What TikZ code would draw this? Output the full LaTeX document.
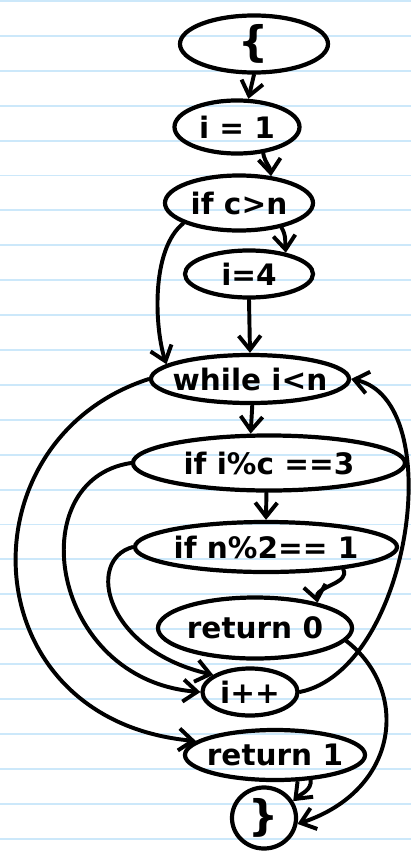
\documentclass[tikz,border=0pt]{standalone}
\usepackage{fontspec}
\setmainfont{DejaVu Sans}
\usetikzlibrary{shapes.geometric, arrows.meta}

\definecolor{ruled}{RGB}{204,232,250}

\begin{document}
\begin{tikzpicture}[
    x=0.025cm, y=0.025cm,
    block/.style={ellipse, draw=black, line width=3pt, inner sep=0pt, text centered, font=\fontsize{21}{24}\selectfont\bfseries,
        execute at begin node={\hbox to 0pt\bgroup\hss}, execute at end node={\hss\egroup}},
    brace/.style={font=\fontsize{30}{32}\selectfont\bfseries},
    flow/.style={-{Straight Barb[length=3.5mm, width=5.5mm]}, line width=2.8pt, line cap=round, line join=round}
]

    % paper
    \useasboundingbox (0,0) rectangle (411,-854);
    \fill[white] (0,0) rectangle (411,-854);
    \foreach \k in {0,...,24}
        \draw[ruled, line width=1.4pt] (0,{-1-34.9*\k}) -- (411,{-1-34.9*\k});

    % nodes
    \node[block, brace, minimum width=3.7cm, minimum height=1.425cm] (start) at (254,-44) {\{};
    \node[block, minimum width=3.125cm, minimum height=1.325cm] (one) at (237,-127) {i = 1};
    \node[block, minimum width=3.7cm, minimum height=1.375cm] (ifcn) at (239,-203) {if c>n};
    \node[block, minimum width=3.2cm, minimum height=1.175cm] (four) at (249,-274) {i=4};
    \node[block, minimum width=4.95cm, minimum height=1.2cm] (loop) at (250,-379) {while i<n};
    \node[block, minimum width=6.8cm, minimum height=1.375cm] (ifmodc) at (269,-463) {if i\%c ==3};
    \node[block, minimum width=6.55cm, minimum height=1.25cm] (ifmodtwo) at (266,-547) {if n\%2== 1};
    \node[block, minimum width=4.85cm, minimum height=1.525cm] (retzero) at (255,-628) {return 0};
    \node[block, minimum width=2.375cm, minimum height=1.175cm] (inc) at (250,-692) {i++};
    \node[block, minimum width=4.5cm, minimum height=1.25cm] (retone) at (275,-755) {return 1};
    \node[block, brace, minimum width=1.6cm, minimum height=1.525cm] (stop) at (264,-818) {\}};

    % straight flow
    \draw[flow] (start.south) -- (one.68);
    \draw[flow] (one.-45) to[out=-80, in=95] (ifcn.40);
    \draw[flow] (ifcn.-30) to[out=-60, in=95] (four.30);
    \draw[flow] (four.south) -- (loop.north);
    \draw[flow] (loop.-85) -- (ifmodc.122);
    \draw[flow] (ifmodc.-95) -- (ifmodtwo.north);
    \draw[flow] (ifmodtwo.-16) to[out=-60, in=100] (retzero.22);
    \draw[flow] (retone.-35) to[out=-85, in=45] (stop.30);

    % branches
    \draw[flow] (ifcn.-160) .. controls (150,-250) and (155,-330) .. (loop.170);
    \draw[flow] (ifmodtwo.west) .. controls (85,-560) and (105,-650) .. (inc.155);
    \draw[flow] (ifmodc.west) .. controls (20,-480) and (50,-680) .. (inc.west);
    \draw[flow] (loop.west) .. controls (-40,-440) and (-30,-720) .. (retone.170);
    \draw[flow] (inc.east) .. controls (410,-670) and (450,-400) .. (loop.east);
    \draw[flow] (retzero.-8) .. controls (410,-690) and (400,-790) .. (stop.-10);

\end{tikzpicture}
\end{document}
